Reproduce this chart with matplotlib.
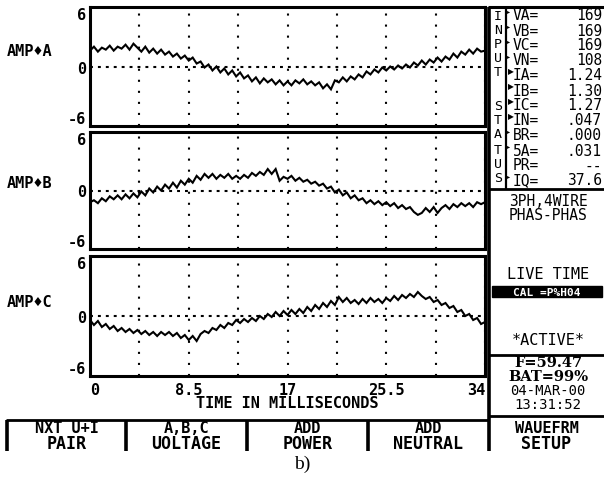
import numpy as np
import matplotlib
matplotlib.use("Agg")
import matplotlib.pyplot as plt
from matplotlib.lines import Line2D
from matplotlib.patches import Rectangle
from matplotlib.ticker import MultipleLocator

# ---------------- data ----------------
amp_a = [1.6, 2.0, 1.5, 1.9, 1.7, 2.1, 1.6, 2.0, 1.8, 2.2,
         1.7, 2.3, 1.9, 1.5, 2.0, 1.4, 1.8, 1.3, 1.7, 1.2,
         1.5, 1.0, 1.3, 0.8, 1.1, 0.6, 0.9, 0.3, 0.5, -0.1,
         0.2, -0.4, 0.0, -0.6, -0.2, -0.8, -0.4, -1.0, -0.6, -1.2,
         -0.9, -1.5, -1.1, -1.7, -1.2, -1.6, -1.3, -1.8, -1.4, -1.9,
         -1.5, -1.9, -1.4, -1.7, -1.3, -1.8, -1.5, -1.9, -1.6, -2.2,
         -1.8, -2.3, -1.4, -1.6, -1.1, -1.5, -1.0, -1.3, -0.8, -1.1,
         -0.5, -0.8, -0.3, -0.6, -0.1, -0.4, 0.0, -0.3, 0.1, -0.2,
         0.2, -0.1, 0.4, 0.1, 0.6, 0.2, 0.7, 0.4, 0.9, 0.5,
         1.0, 0.7, 1.3, 0.9, 1.5, 1.2, 1.7, 1.3, 1.8, 1.5, 1.6]
amp_b = [-1.2, -1.0, -1.3, -0.8, -1.1, -0.6, -0.9, -0.5, -0.9, -0.4,
         -0.8, -0.3, -0.7, -0.1, -0.5, 0.2, -0.2, 0.4, 0.0, 0.6,
         0.2, 0.8, 0.3, 1.0, 0.6, 1.2, 0.8, 1.5, 1.1, 1.7,
         1.3, 1.7, 1.2, 1.6, 1.3, 1.7, 1.2, 1.5, 1.2, 1.6,
         1.3, 1.8, 1.5, 1.9, 1.6, 2.2, 1.7, 2.2, 1.0, 1.4,
         1.2, 1.5, 1.0, 1.3, 0.9, 1.1, 0.7, 0.9, 0.5, 0.7,
         0.2, 0.4, -0.2, 0.1, -0.5, -0.2, -0.8, -0.5, -1.0, -0.8,
         -1.3, -1.0, -1.4, -1.1, -1.5, -1.2, -1.6, -1.3, -1.8, -1.5,
         -1.9, -1.7, -2.2, -2.5, -2.3, -1.8, -2.2, -1.7, -2.3, -1.8,
         -1.5, -1.9, -1.4, -1.7, -1.3, -1.6, -1.3, -1.7, -1.2, -1.4, -1.2]
amp_c = [-0.4, -0.9, -0.5, -1.1, -0.8, -1.3, -1.0, -1.5, -1.2, -1.6,
         -1.3, -1.7, -1.4, -1.8, -1.5, -1.9, -1.6, -2.0, -1.6, -1.9,
         -1.6, -2.0, -1.7, -2.2, -1.9, -2.4, -2.0, -2.5, -1.8, -1.5,
         -1.7, -1.2, -1.4, -0.9, -1.2, -0.7, -0.9, -0.4, -0.7, -0.3,
         -0.6, -0.2, -0.5, 0.0, -0.3, 0.2, -0.1, 0.4, 0.0, 0.5,
         0.1, 0.6, 0.2, 0.7, 0.3, 0.9, 0.5, 1.1, 0.7, 1.3,
         0.9, 1.5, 1.1, 1.9, 1.4, 1.8, 1.3, 1.6, 1.2, 1.7,
         1.3, 1.8, 1.4, 1.7, 1.3, 1.8, 1.5, 2.0, 1.6, 2.1,
         1.8, 2.2, 1.9, 2.4, 2.0, 1.7, 1.9, 1.4, 1.6, 1.1,
         1.3, 0.8, 1.0, 0.4, 0.6, 0.0, 0.2, -0.4, -0.2, -0.8, -0.6]
series_labels = ["AMP\u2666A", "AMP\u2666B", "AMP\u2666C"]
time_span_ms = 34
x_ticks = [0, 8.5, 17, 25.5, 34]
x_tick_labels = ["0", "8.5", "17", "25.5", "34"]
y_ticks = [-6, 0, 6]
y_tick_labels = ["-6", "0", "6"]
x_label = "TIME IN MILLISECONDS"

status_letters = ["I", "N", "P", "U", "T", "S", "T", "A", "T", "U", "S"]
status_names = ["VA=", "VB=", "VC=", "VN=", "IA=", "IB=", "IC=", "IN=",
                "BR=", "5A=", "PR=", "IQ="]
status_values = ["169", "169", "169", "108", "1.24", "1.30", "1.27", ".047",
                 ".000", ".031", "--", "37.6"]
status_marks = ["s", "s", "s", "s", "T", "T", "T", "T", "s", "s", "", "s"]
softkeys = [("NXT U+I", "PAIR"), ("A,B,C", "UOLTAGE"), ("ADD", "POWER"),
            ("ADD", "NEUTRAL"), ("WAUEFRM", "SETUP")]

# ---------------- figure ----------------
W, H = 604, 481
fig = plt.figure(figsize=(W / 100, H / 100), dpi=100)
MONO = "DejaVu Sans Mono"


def fx(x):
    return x / W


def fy(y):
    return 1 - y / H


def hline(y, x0, x1, lw=2.0):
    fig.add_artist(Line2D([fx(x0), fx(x1)], [fy(y), fy(y)], color="k",
                          lw=lw, transform=fig.transFigure, solid_capstyle="butt"))


def vline(x, y0, y1, lw=2.0):
    fig.add_artist(Line2D([fx(x), fx(x)], [fy(y0), fy(y1)], color="k",
                          lw=lw, transform=fig.transFigure, solid_capstyle="butt"))


def ftext(x, y, s, **kw):
    kw.setdefault("family", MONO)
    kw.setdefault("fontsize", 10)
    kw.setdefault("weight", "bold")
    kw.setdefault("va", "center")
    fig.text(fx(x), fy(y), s, transform=fig.transFigure, **kw)


panel_px = [(90, 8, 485, 127), (90, 133, 485, 250), (90, 257, 485, 377)]
label_y = [52, 183, 303]
series = [amp_a, amp_b, amp_c]

for k, (x0, y0, x1, y1) in enumerate(panel_px):
    ax = fig.add_axes([fx(x0), fy(y1), (x1 - x0) / W, (y1 - y0) / H])
    vals = series[k]
    t = np.linspace(0, time_span_ms, len(vals))
    ax.plot(t, vals, color="k", lw=1.5, solid_joinstyle="miter")
    ax.set_xlim(0, time_span_ms)
    ax.set_ylim(-6, 6)
    for sp in ax.spines.values():
        sp.set_linewidth(2.2)
    ax.axhline(0, color="k", lw=1.5, ls=(0, (1.4, 2.4)))
    ax.set_xticks(x_ticks)
    ax.xaxis.set_minor_locator(MultipleLocator(4.25))
    ax.grid(True, which="both", axis="x", color="k", lw=1.5, ls=(0, (1.0, 4.3)))
    ax.grid(False, axis="y")
    ax.tick_params(which="both", length=0)
    ax.set_yticks(y_ticks)
    ylabs = ax.set_yticklabels(y_tick_labels, family=MONO, weight="bold", fontsize=11)
    ylabs[0].set_va("bottom")
    ylabs[2].set_va("top")
    ax.tick_params(axis="y", pad=3)
    if k == 2:
        xlabs = ax.set_xticklabels(x_tick_labels, family=MONO, weight="bold", fontsize=11)
        xlabs[0].set_ha("left")
        xlabs[-1].set_ha("right")
        ax.tick_params(axis="x", pad=4)
        ax.set_xlabel(x_label, family=MONO, weight="bold", fontsize=11, labelpad=-1)
    else:
        ax.set_xticklabels([])
    ftext(7, label_y[k], series_labels[k], ha="left", fontsize=11)

# ---------------- right status panel ----------------
vline(489, 8, 452, lw=2.6)
hline(8, 488, 604, lw=2.2)
vline(506, 8, 190, lw=1.6)
hline(190, 488, 604, lw=2.0)
hline(356, 488, 604, lw=2.0)
hline(417, 488, 604, lw=2.0)

letter_y = [16, 30, 44, 58, 72, 106, 121, 135, 150, 164, 179]
for s, yy in zip(status_letters, letter_y):
    ftext(498, yy, s, ha="center", weight="normal", fontsize=9.5)

for i, (nm, val, mk) in enumerate(zip(status_names, status_values, status_marks)):
    yy = 16 + 15 * i
    ftext(513, yy, nm, ha="left", weight="normal", fontsize=10.5)
    ftext(602, yy, val, ha="right", weight="normal", fontsize=10.5)
    if mk == "T":
        ftext(508, yy - 4, "\u25b6", ha="left", family="DejaVu Sans", fontsize=5.5)
    elif mk == "s":
        ftext(507, yy - 4, "\u25b8", ha="left", family="DejaVu Sans", fontsize=4.5)

ftext(548, 202, "3PH,4WIRE", ha="center", weight="normal", fontsize=10.5)
ftext(548, 216, "PHAS-PHAS", ha="center", weight="normal", fontsize=10.5)
ftext(548, 275, "LIVE TIME", ha="center", weight="normal", fontsize=11)
fig.add_artist(Rectangle((fx(492), fy(298)), (602 - 492) / W, 11 / H,
                         transform=fig.transFigure, color="k"))
ftext(547, 292.5, "CAL =P%H04", ha="center", weight="bold", fontsize=8,
      color="white")
ftext(548, 341, "*ACTIVE*", ha="center", weight="normal", fontsize=11)
ftext(548, 363, "F=59.47", ha="center", fontsize=10.5,
      family="DejaVu Serif")
ftext(548, 377, "BAT=99%", ha="center", fontsize=10.5,
      family="DejaVu Serif")
ftext(548, 391, "04-MAR-00", ha="center", weight="normal", fontsize=10)
ftext(548, 405, "13:31:52", ha="center", weight="normal", fontsize=10)

# ---------------- soft keys ----------------
hline(421, 6, 489, lw=2.0)
key_edges = [7, 126, 247, 368, 489, 604]
for xe in key_edges[:4]:
    vline(xe, 421, 452, lw=2.6)
for i, (l1, l2) in enumerate(softkeys):
    xc = (key_edges[i] + key_edges[i + 1]) / 2
    ftext(xc, 429, l1, ha="center", fontsize=11)
    ftext(xc, 444, l2, ha="center", fontsize=12)

fig.text(fx(302), fy(464), "b)", family="Liberation Serif", fontsize=14,
         ha="center", va="center", transform=fig.transFigure)

fig.savefig("out.png", dpi=100)
